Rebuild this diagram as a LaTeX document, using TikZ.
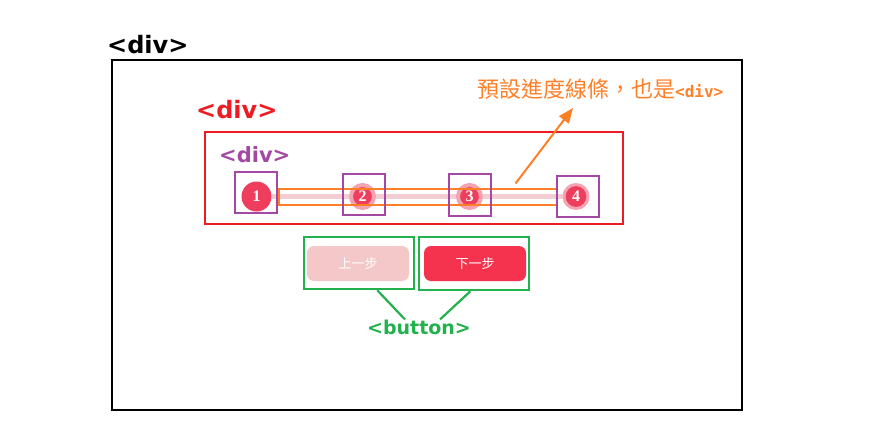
\documentclass[tikz,border=0pt]{standalone}
\usepackage{fontspec}
\setmainfont{Liberation Serif}
\newfontfamily\tagfont{DejaVu Sans}
\newfontfamily\cjkfont{Noto Sans CJK TC}
\newfontfamily\codefont{DejaVu Sans Mono}
\usepackage{tikz}
\usetikzlibrary{arrows.meta, positioning, backgrounds, calc}
\definecolor{divred}{HTML}{ED1C24}
\definecolor{divpurple}{HTML}{A349A4}
\definecolor{barorange}{HTML}{FF7F27}
\definecolor{btngreen}{HTML}{22B14C}
\definecolor{dotred}{HTML}{EF3D5E}
\definecolor{dothalo}{HTML}{F4A3B0}
\definecolor{trackpink}{HTML}{F3CDD2}
\definecolor{prevpink}{HTML}{F4C8C8}
\definecolor{nextred}{HTML}{F5334F}
\tikzset{
    tagbox/.style={rectangle, draw, line width=2pt, inner sep=0pt},
    tagtext/.style={font=\tagfont\bfseries\fontsize{24}{28}\selectfont, inner sep=0pt, anchor=west},
    dot/.style={circle, fill=dotred, inner sep=0pt, minimum size=30pt, text=white, font=\bfseries\fontsize{16}{16}\selectfont},
    halodot/.style={dot, minimum size=23pt, draw=dothalo, line width=4pt},
    button/.style={rectangle, rounded corners=7pt, minimum width=102pt, minimum height=35pt, text=white, font=\cjkfont\fontsize{13}{13}\selectfont},
    arrow/.style={-{Triangle[length=15pt, width=12pt]}, line width=2pt},
}

\begin{document}
\begin{tikzpicture}[x=1pt, y=-1pt]
        \useasboundingbox (0,0) rectangle (886,447);

        % Nodes
        \node[tagbox, minimum width=630pt, minimum height=350pt] (outer) at (427,235) {};
        \node[tagtext] (outerlabel) at (107,45) {<div>};

        \node[tagbox, draw=divred, minimum width=418pt, minimum height=92pt] (stepper) at (414,178) {};
        \node[tagtext, text=divred] (stepperlabel) at (196,110) {<div>};
        \node[tagtext, text=divpurple, font=\tagfont\bfseries\fontsize{21}{24}\selectfont] (steplabel) at (219,155) {<div>};

        \node[dot] (dot1) at (256.5,196.5) {1};
        \node[halodot] (dot2) at (362.5,196.5) {2};
        \node[halodot] (dot3) at (469.5,196.5) {3};
        \node[halodot, line width=3pt, minimum size=24pt] (dot4) at (576,196.5) {4};

        \node[tagbox, draw=barorange, minimum width=278pt, minimum height=16pt] (bar) at (417.5,196.5) {};

        \node[tagbox, draw=divpurple, minimum width=42pt, minimum height=41pt] (step1) at (256,192.5) {};
        \node[tagbox, draw=divpurple, minimum width=42pt, minimum height=41pt] (step2) at (364,194.5) {};
        \node[tagbox, draw=divpurple, minimum width=42pt, minimum height=42pt] (step3) at (470,195) {};
        \node[tagbox, draw=divpurple, minimum width=42pt, minimum height=41pt] (step4) at (578,196.5) {};

        \node[tagtext, text=barorange] (barlabel) at (477,89) {{\cjkfont\mdseries\fontsize{22}{24}\selectfont 預設進度線條，也是}{\codefont\bfseries\fontsize{16}{18}\selectfont <div>}};
        \coordinate (bartip) at (573,108);

        \node[button, fill=prevpink] (prev) at (358,263.5) {上一步};
        \node[button, fill=nextred] (next) at (475,263.5) {下一步};
        \node[tagbox, draw=btngreen, minimum width=110pt, minimum height=52pt] (prevbox) at (359.3,263.3) {};
        \node[tagbox, draw=btngreen, minimum width=110pt, minimum height=53pt] (nextbox) at (474.3,263.8) {};
        \node[tagtext, text=btngreen, anchor=center, font=\tagfont\bfseries\fontsize{19}{22}\selectfont] (btnlabel) at (419,327) {<button>};

        % Connections
        \begin{scope}[on background layer]
            \draw[trackpink, line width=5pt] (dot1) -- (dot4);
        \end{scope}
        \draw[arrow, barorange] ([xshift=98pt, yshift=4pt]bar.north) -- (bartip);
        \draw[btngreen, line width=2.2pt] ([xshift=18pt]prevbox.south) -- ([xshift=-14pt]btnlabel.north);
        \draw[btngreen, line width=2.2pt] ([xshift=-4pt]nextbox.south) -- ([xshift=21pt]btnlabel.north);
    \end{tikzpicture}
\end{document}
